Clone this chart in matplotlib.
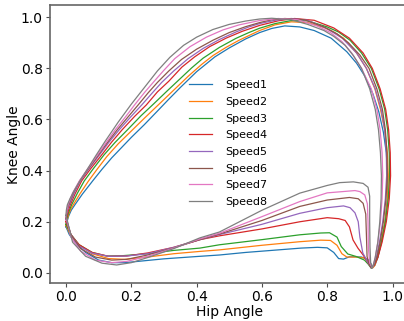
import matplotlib
matplotlib.use("Agg")
import matplotlib.pyplot as plt

# --- hip / knee angle loops ---
speed1_hip = [0.0, 0.003, 0.008, 0.016, 0.027, 0.05, 0.083, 0.11, 0.14, 0.17, 0.2, 0.24, 0.28, 0.313, 0.35, 0.4, 0.456, 0.5, 0.55, 0.593, 0.63, 0.67, 0.716, 0.76, 0.812, 0.86, 0.89, 0.915, 0.94, 0.958, 0.972, 0.981, 0.985, 0.984, 0.977, 0.966, 0.955, 0.946, 0.94,
              0.932, 0.925, 0.905, 0.885, 0.868, 0.85, 0.835, 0.82, 0.8, 0.77, 0.72, 0.65, 0.55, 0.47, 0.4, 0.3, 0.22, 0.18, 0.14, 0.1, 0.06, 0.03, 0.01, 0.0]
speed1_knee = [0.18, 0.2, 0.222, 0.245, 0.266, 0.308, 0.362, 0.405, 0.45, 0.49, 0.53, 0.58, 0.633, 0.677, 0.725, 0.787, 0.845, 0.88, 0.915, 0.94, 0.956, 0.966, 0.962, 0.948, 0.918, 0.865, 0.82, 0.77, 0.7, 0.63, 0.55, 0.47, 0.38, 0.29, 0.2, 0.12, 0.06, 0.03, 0.022,
               0.04, 0.052, 0.062, 0.063, 0.063, 0.054, 0.056, 0.08, 0.098, 0.1, 0.097, 0.09, 0.08, 0.07, 0.064, 0.055, 0.045, 0.04, 0.04, 0.05, 0.08, 0.115, 0.15, 0.18]

speed2_hip = [0.0, 0.003, 0.008, 0.014, 0.022, 0.043, 0.068, 0.095, 0.125, 0.16, 0.2, 0.24, 0.285, 0.33, 0.375, 0.415, 0.45, 0.49, 0.53, 0.593, 0.64, 0.69, 0.74, 0.79, 0.82, 0.85, 0.89, 0.92, 0.946, 0.963, 0.976, 0.984, 0.987, 0.985, 0.977, 0.965, 0.954, 0.946, 0.94,
              0.93, 0.915, 0.89, 0.86, 0.845, 0.83, 0.81, 0.78, 0.716, 0.6, 0.47, 0.41, 0.33, 0.25, 0.18, 0.13, 0.08, 0.04, 0.015, 0.0]
speed2_knee = [0.185, 0.205, 0.228, 0.248, 0.266, 0.31, 0.358, 0.405, 0.455, 0.505, 0.555, 0.605, 0.66, 0.715, 0.77, 0.815, 0.85, 0.882, 0.91, 0.948, 0.97, 0.982, 0.979, 0.96, 0.942, 0.918, 0.86, 0.8, 0.72, 0.64, 0.56, 0.47, 0.38, 0.29, 0.2, 0.12, 0.06, 0.03, 0.02,
               0.04, 0.058, 0.062, 0.062, 0.075, 0.108, 0.127, 0.128, 0.122, 0.108, 0.09, 0.084, 0.075, 0.062, 0.053, 0.056, 0.075, 0.11, 0.145, 0.185]

speed3_hip = [0.0, 0.003, 0.007, 0.012, 0.017, 0.035, 0.056, 0.085, 0.116, 0.15, 0.19, 0.23, 0.27, 0.31, 0.35, 0.385, 0.42, 0.47, 0.52, 0.56, 0.593, 0.64, 0.69, 0.74, 0.8, 0.835, 0.87, 0.905, 0.935, 0.959, 0.976, 0.985, 0.99, 0.991, 0.987, 0.978, 0.966, 0.954, 0.943, 0.935,
              0.925, 0.914, 0.889, 0.863, 0.843, 0.83, 0.807, 0.78, 0.716, 0.6, 0.47, 0.41, 0.33, 0.25, 0.17, 0.124, 0.08, 0.04, 0.015, 0.0]
speed3_knee = [0.19, 0.212, 0.233, 0.25, 0.266, 0.312, 0.36, 0.41, 0.461, 0.51, 0.562, 0.615, 0.663, 0.712, 0.76, 0.802, 0.84, 0.882, 0.917, 0.94, 0.957, 0.975, 0.987, 0.986, 0.962, 0.942, 0.91, 0.86, 0.8, 0.72, 0.64, 0.56, 0.47, 0.38, 0.29, 0.2, 0.12, 0.06, 0.03, 0.018,
               0.035, 0.05, 0.064, 0.074, 0.103, 0.14, 0.157, 0.156, 0.149, 0.13, 0.11, 0.097, 0.088, 0.075, 0.067, 0.066, 0.08, 0.11, 0.15, 0.19]

speed4_hip = [0.0, 0.003, 0.007, 0.013, 0.028, 0.048, 0.077, 0.109, 0.14, 0.172, 0.21, 0.246, 0.28, 0.315, 0.355, 0.394, 0.44, 0.49, 0.54, 0.593, 0.65, 0.7, 0.76, 0.82, 0.868, 0.91, 0.938, 0.962, 0.979, 0.988, 0.993, 0.994, 0.99, 0.981, 0.968, 0.955, 0.944, 0.935,
              0.922, 0.91, 0.894, 0.879, 0.868, 0.855, 0.835, 0.8, 0.716, 0.6, 0.47, 0.41, 0.33, 0.25, 0.186, 0.13, 0.08, 0.04, 0.015, 0.0]
speed4_knee = [0.2, 0.222, 0.243, 0.266, 0.31, 0.36, 0.41, 0.461, 0.512, 0.56, 0.612, 0.657, 0.708, 0.75, 0.805, 0.845, 0.885, 0.918, 0.945, 0.968, 0.986, 0.995, 0.988, 0.958, 0.918, 0.86, 0.8, 0.72, 0.64, 0.56, 0.47, 0.38, 0.29, 0.2, 0.12, 0.06, 0.03, 0.02,
               0.045, 0.07, 0.097, 0.129, 0.18, 0.205, 0.212, 0.216, 0.2, 0.172, 0.145, 0.13, 0.1, 0.078, 0.066, 0.065, 0.08, 0.11, 0.15, 0.2]

speed5_hip = [0.0, 0.002, 0.005, 0.01, 0.025, 0.044, 0.072, 0.102, 0.132, 0.163, 0.198, 0.232, 0.265, 0.293, 0.33, 0.374, 0.42, 0.47, 0.52, 0.56, 0.593, 0.64, 0.69, 0.74, 0.8, 0.846, 0.89, 0.92, 0.947, 0.965, 0.976, 0.981, 0.982, 0.978, 0.97, 0.96, 0.95, 0.942, 0.935,
              0.925, 0.909, 0.9, 0.895, 0.885, 0.87, 0.85, 0.8, 0.716, 0.6, 0.47, 0.41, 0.33, 0.25, 0.186, 0.13, 0.08, 0.04, 0.015, 0.0]
speed5_knee = [0.21, 0.23, 0.248, 0.266, 0.312, 0.36, 0.41, 0.461, 0.512, 0.56, 0.61, 0.657, 0.705, 0.745, 0.79, 0.838, 0.878, 0.913, 0.942, 0.962, 0.975, 0.988, 0.995, 0.988, 0.955, 0.918, 0.86, 0.8, 0.72, 0.64, 0.56, 0.47, 0.38, 0.29, 0.2, 0.12, 0.06, 0.03, 0.02,
               0.04, 0.078, 0.14, 0.2, 0.235, 0.255, 0.262, 0.255, 0.233, 0.19, 0.15, 0.13, 0.1, 0.075, 0.066, 0.065, 0.077, 0.105, 0.15, 0.21]

speed6_hip = [0.0, 0.002, 0.004, 0.008, 0.022, 0.042, 0.07, 0.099, 0.128, 0.157, 0.19, 0.221, 0.252, 0.28, 0.315, 0.354, 0.4, 0.45, 0.5, 0.55, 0.593, 0.63, 0.67, 0.73, 0.79, 0.83, 0.865, 0.9, 0.928, 0.952, 0.969, 0.978, 0.983, 0.984, 0.98, 0.972, 0.962, 0.952, 0.943, 0.935,
              0.928, 0.922, 0.92, 0.918, 0.91, 0.895, 0.868, 0.8, 0.716, 0.6, 0.47, 0.41, 0.33, 0.25, 0.186, 0.14, 0.09, 0.045, 0.015, 0.0]
speed6_knee = [0.215, 0.235, 0.25, 0.266, 0.312, 0.36, 0.41, 0.461, 0.512, 0.56, 0.61, 0.657, 0.705, 0.745, 0.79, 0.835, 0.875, 0.91, 0.94, 0.963, 0.979, 0.99, 0.995, 0.99, 0.962, 0.935, 0.9, 0.852, 0.8, 0.72, 0.64, 0.56, 0.47, 0.38, 0.29, 0.2, 0.12, 0.06, 0.03, 0.02,
               0.035, 0.064, 0.15, 0.23, 0.272, 0.29, 0.295, 0.285, 0.26, 0.205, 0.152, 0.13, 0.098, 0.07, 0.053, 0.05, 0.062, 0.095, 0.15, 0.215]

speed7_hip = [0.0, 0.002, 0.004, 0.006, 0.02, 0.041, 0.068, 0.096, 0.124, 0.151, 0.182, 0.21, 0.24, 0.267, 0.298, 0.333, 0.38, 0.43, 0.48, 0.53, 0.593, 0.65, 0.71, 0.77, 0.81, 0.845, 0.875, 0.905, 0.935, 0.952, 0.962, 0.968, 0.97, 0.968, 0.963, 0.955, 0.947, 0.941, 0.938,
              0.93, 0.926, 0.925, 0.923, 0.915, 0.9, 0.885, 0.8, 0.716, 0.6, 0.47, 0.41, 0.33, 0.25, 0.186, 0.14, 0.09, 0.045, 0.015, 0.0]
speed7_knee = [0.22, 0.24, 0.253, 0.266, 0.312, 0.36, 0.41, 0.461, 0.512, 0.56, 0.61, 0.657, 0.705, 0.745, 0.79, 0.838, 0.885, 0.922, 0.95, 0.97, 0.987, 0.995, 0.99, 0.965, 0.94, 0.905, 0.86, 0.8, 0.72, 0.64, 0.56, 0.47, 0.38, 0.29, 0.2, 0.12, 0.06, 0.03, 0.02,
               0.04, 0.1, 0.2, 0.27, 0.305, 0.318, 0.322, 0.313, 0.279, 0.22, 0.155, 0.133, 0.097, 0.065, 0.045, 0.04, 0.05, 0.085, 0.14, 0.22]

speed8_hip = [0.0, 0.001, 0.004, 0.012, 0.025, 0.045, 0.07, 0.092, 0.12, 0.16, 0.2, 0.24, 0.28, 0.318, 0.36, 0.4, 0.45, 0.5, 0.55, 0.593, 0.63, 0.69, 0.74, 0.79, 0.82, 0.855, 0.88, 0.905, 0.93, 0.947, 0.957, 0.963, 0.966, 0.965, 0.961, 0.955, 0.947, 0.941, 0.938,
              0.933, 0.931, 0.93, 0.93, 0.925, 0.91, 0.88, 0.838, 0.8, 0.716, 0.6, 0.47, 0.41, 0.33, 0.25, 0.2, 0.155, 0.11, 0.06, 0.02, 0.0]
speed8_knee = [0.225, 0.245, 0.266, 0.29, 0.322, 0.365, 0.415, 0.46, 0.515, 0.59, 0.66, 0.725, 0.79, 0.843, 0.89, 0.922, 0.952, 0.972, 0.985, 0.993, 0.996, 0.99, 0.972, 0.948, 0.925, 0.89, 0.85, 0.8, 0.72, 0.64, 0.56, 0.47, 0.38, 0.29, 0.2, 0.12, 0.06, 0.03, 0.018,
               0.04, 0.1, 0.2, 0.3, 0.335, 0.35, 0.356, 0.353, 0.342, 0.312, 0.245, 0.16, 0.137, 0.095, 0.06, 0.04, 0.031, 0.038, 0.065, 0.12, 0.225]

labels = ["Speed1", "Speed2", "Speed3", "Speed4", "Speed5", "Speed6", "Speed7", "Speed8"]
hips = [speed1_hip, speed2_hip, speed3_hip, speed4_hip, speed5_hip, speed6_hip, speed7_hip, speed8_hip]
knees = [speed1_knee, speed2_knee, speed3_knee, speed4_knee, speed5_knee, speed6_knee, speed7_knee, speed8_knee]

fig = plt.figure(figsize=(4.04, 3.21), dpi=100)
ax = fig.add_axes([0.123, 0.118, 0.889, 0.865])

for h, k, lab in zip(hips, knees, labels):
    ax.plot(h, k, linewidth=0.9, label=lab)

ax.set_xlim(-0.05, 1.05)
ax.set_ylim(-0.04, 1.046)
ax.set_xticks([0.0, 0.2, 0.4, 0.6, 0.8, 1.0])
ax.set_yticks([0.0, 0.2, 0.4, 0.6, 0.8, 1.0])
ax.tick_params(labelsize=10, color="0.3", length=3, pad=2)
ax.set_xlabel("Hip Angle", fontsize=10, labelpad=1)
ax.set_ylabel("Knee Angle", fontsize=10, labelpad=0)
for s in ax.spines.values():
    s.set_color("0.4")
    s.set_linewidth(1.2)

ax.legend(loc="upper left", bbox_to_anchor=(0.457, 0.764), bbox_transform=fig.transFigure,
          frameon=False, fontsize=8, handlelength=2.1, handletextpad=1.2,
          labelspacing=0.6, borderaxespad=0)

fig.savefig("out.png", dpi=100)
